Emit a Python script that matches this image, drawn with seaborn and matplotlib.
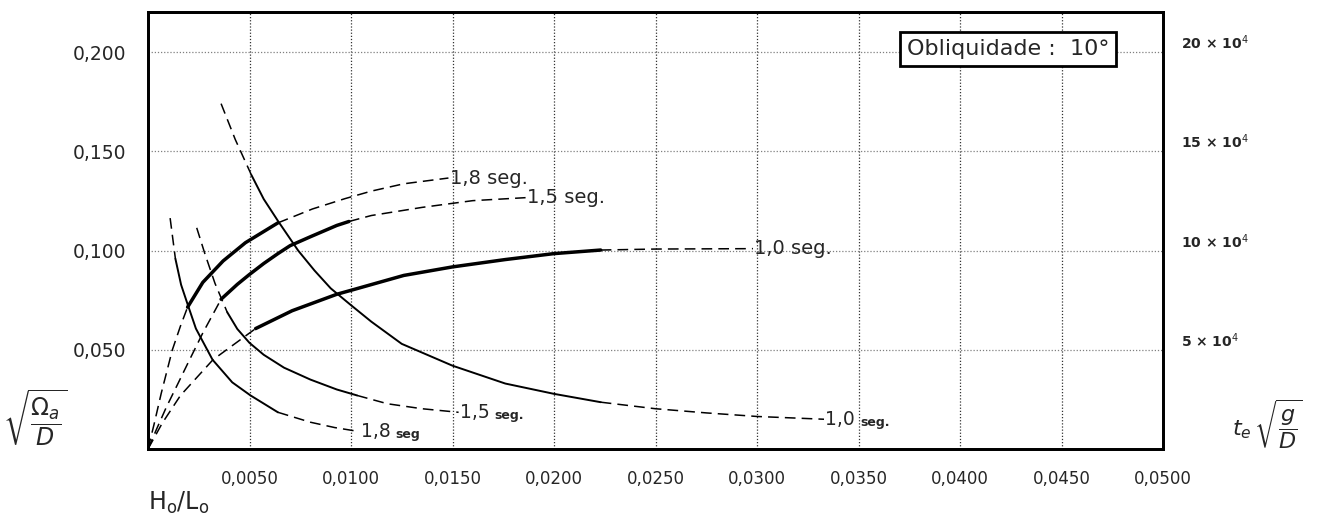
import numpy as np
import matplotlib
matplotlib.use('Agg')
import matplotlib.pyplot as plt
import seaborn as sns

# ------------------------------------------ DATA ------------------------------------------------#
# sqrt(Omega_a / D)  (left axis) vs H0/L0, wave periods 1.8 / 1.5 / 1.0 s
om18_x = [0, 0.0003, 0.00065, 0.0012, 0.0016, 0.00195, 0.0027, 0.0037, 0.0048, 0.0064, 0.0081,
          0.0097, 0.0110, 0.0126, 0.0148]
om18_y = [0, 0.0125, 0.028, 0.050, 0.062, 0.0715, 0.0840, 0.0948, 0.1040, 0.1140, 0.1210,
          0.1262, 0.1300, 0.1337, 0.1366]

om15_x = [0, 0.0004, 0.0009, 0.0015, 0.0020, 0.0027, 0.0036, 0.0044, 0.0050, 0.0057, 0.0064,
          0.0070, 0.0080, 0.0093, 0.0099, 0.0110, 0.0135, 0.0160, 0.0186]
om15_y = [0, 0.0095, 0.0210, 0.0335, 0.0440, 0.0585, 0.0755, 0.0830, 0.0880, 0.0935, 0.0985,
          0.1025, 0.1070, 0.1127, 0.1147, 0.1177, 0.1218, 0.1252, 0.1267]

om10_x = [0, 0.0007, 0.0016, 0.0032, 0.0053, 0.0071, 0.0093, 0.0100, 0.0126, 0.0150, 0.0176,
          0.0200, 0.0223, 0.0250, 0.0298]
om10_y = [0, 0.013, 0.027, 0.045, 0.0607, 0.0697, 0.0780, 0.0800, 0.0875, 0.0918, 0.0955,
          0.0985, 0.1003, 0.1008, 0.1010]

# t_e * sqrt(g / D)  (right axis, x 10^4) vs H0/L0
te18_x = [0.00109, 0.00135, 0.00163, 0.00195, 0.00236, 0.00318, 0.00415, 0.00505, 0.0064,
          0.0080, 0.0092, 0.0104]
te18_y = [11.64, 9.59, 8.28, 7.3, 6.07, 4.5, 3.36, 2.70, 1.85, 1.35, 1.08, 0.88]

te15_x = [0.0024, 0.0028, 0.0033, 0.0039, 0.0044, 0.0050, 0.0057, 0.0067, 0.0080, 0.0093,
          0.0103, 0.0118, 0.0135, 0.0153]
te15_y = [11.15, 9.85, 8.35, 6.9, 6.05, 5.35, 4.75, 4.1, 3.5, 3.0, 2.7, 2.28, 2.03, 1.85]

te10_x = [0.0036, 0.0043, 0.0051, 0.0057, 0.0064, 0.0074, 0.0082, 0.0090, 0.0100, 0.0110,
          0.0125, 0.0150, 0.0176, 0.0200, 0.0223, 0.0250, 0.0275, 0.0300, 0.0333]
te10_y = [17.41, 15.6, 13.8, 12.6, 11.5, 10.0, 9.0, 8.1, 7.25, 6.42, 5.3, 4.2, 3.3, 2.78, 2.36,
          2.03, 1.82, 1.64, 1.5]

x_ticks = [0.005, 0.010, 0.015, 0.020, 0.025, 0.030, 0.035, 0.040, 0.045, 0.050]
x_ticklabels = ['0,0050', '0,0100', '0,0150', '0,0200', '0,0250', '0,0300', '0,0350',
                '0,0400', '0,0450', '0,0500']
y_ticks = [0.05, 0.10, 0.15, 0.20]
y_ticklabels = ['0,050', '0,100', '0,150', '0,200']
y2_ticks = [5, 10, 15, 20]
y2_ticklabels = ['5 × 10$^{4}$', '10 × 10$^{4}$', '15 × 10$^{4}$', '20 × 10$^{4}$']

# ------------------------------------------ STYLE ------------------------------------------------#
# x range of the solid (measured) part of each curve, rest is drawn dashed
solid_om = {'1,8': (0.00195, 0.0064), '1,5': (0.0036, 0.0099), '1,0': (0.0053, 0.0223)}
solid_te = {'1,8': (0.00135, 0.0064), '1,5': (0.0039, 0.0103), '1,0': (0.0051, 0.0223)}
dash = (0, (7, 4))


def pieces(x, y, lo, hi):
    x = np.asarray(x)
    y = np.asarray(y)
    a = x <= lo
    b = (x >= lo) & (x <= hi)
    c = x >= hi
    return (x[a], y[a]), (x[b], y[b]), (x[c], y[c])


def draw(ax, x, y, rng, lw_solid):
    p1, p2, p3 = pieces(x, y, *rng)
    for p, ls, lw in [(p1, dash, 1.1), (p2, '-', lw_solid), (p3, dash, 1.1)]:
        if len(p[0]) > 1:
            sns.lineplot(x=p[0], y=p[1], ax=ax, color='black', linewidth=lw, linestyle=ls,
                         sort=False, estimator=None, legend=False)


sns.set_style('white')
plt.rcParams['font.family'] = ['DejaVu Sans']

fig = plt.figure(figsize=(13.27, 5.31), dpi=100)
ax = fig.add_axes([148 / 1327, 82 / 531, 1015 / 1327, 437 / 531])
ax.set_xlim(0, 0.05)
ax.set_ylim(0, 0.2203)
ax2 = ax.twinx()
ax2.set_ylim(0, 22.03)

# grid
for xv in x_ticks[:-1]:
    ax.axvline(xv, color='#333333', lw=0.9, ls=(0, (1, 1.5)), zorder=0)
for yv in y_ticks:
    ax.axhline(yv, color='#808080', lw=0.9, ls=(0, (1, 1.5)), zorder=0)

draw(ax, om18_x, om18_y, solid_om['1,8'], 2.5)
draw(ax, om15_x, om15_y, solid_om['1,5'], 2.5)
draw(ax, om10_x, om10_y, solid_om['1,0'], 2.5)
draw(ax2, te18_x, te18_y, solid_te['1,8'], 1.4)
draw(ax2, te15_x, te15_y, solid_te['1,5'], 1.4)
draw(ax2, te10_x, te10_y, solid_te['1,0'], 1.4)

# curve labels
for xs, ys, lab in [(om18_x, om18_y, '1,8'), (om15_x, om15_y, '1,5'), (om10_x, om10_y, '1,0')]:
    ax.annotate(lab + ' seg.', xy=(xs[-1], ys[-1]), xytext=(1, 0), textcoords='offset points',
                ha='left', va='center', fontsize=14)
for xs, ys, lab in [(te18_x, te18_y, '1,8'), (te15_x, te15_y, '1,5'), (te10_x, te10_y, '1,0')]:
    ax2.annotate(lab, xy=(xs[-1], ys[-1]), xytext=(1, 0), textcoords='offset points',
                 ha='left', va='center', fontsize=13.5)
    ax2.annotate('seg.' if lab != '1,8' else 'seg', xy=(xs[-1], ys[-1]), xytext=(26, -2),
                 textcoords='offset points', ha='left', va='center', fontsize=9,
                 fontweight='bold')

ax2.text(0.04237, 20.16, 'Obliquidade :  10°', ha='center', va='center', fontsize=16,
         bbox=dict(boxstyle='square,pad=0.3', fc='white', ec='black', lw=2), zorder=10)

# axes cosmetics
ax.set_xticks(x_ticks)
ax.set_xticklabels(x_ticklabels, fontsize=12)
ax.set_yticks(y_ticks)
ax.set_yticklabels(y_ticklabels, fontsize=13.5)
ax.tick_params(axis='x', length=0, pad=15)
ax.tick_params(axis='y', length=0, pad=16)
ax2.set_yticks(y2_ticks)
ax2.set_yticklabels(y2_ticklabels, fontsize=10, fontweight='bold')
ax2.tick_params(axis='y', length=0, pad=13)
for tl in ax2.get_yticklabels():
    tl.set_va('bottom')
ax.set_xlabel('')
ax.set_ylabel('')
ax2.set_ylabel('')
for a in [ax, ax2]:
    for s in a.spines.values():
        s.set_linewidth(2)
        s.set_color('black')

fig.text(35 / 1327, 1 - 418 / 531, r'$\sqrt{\dfrac{\Omega_a}{D}}$', ha='center', va='center',
         fontsize=17)
fig.text(1267 / 1327, 1 - 424 / 531, r'$t_e\,\sqrt{\dfrac{g}{D}}$', ha='center', va='center',
         fontsize=16)
fig.text(148 / 1327, 1 - 503 / 531, r'$\mathregular{H_o / L_o}$', ha='left', va='center',
         fontsize=17)

fig.savefig('out.png', dpi=100)
